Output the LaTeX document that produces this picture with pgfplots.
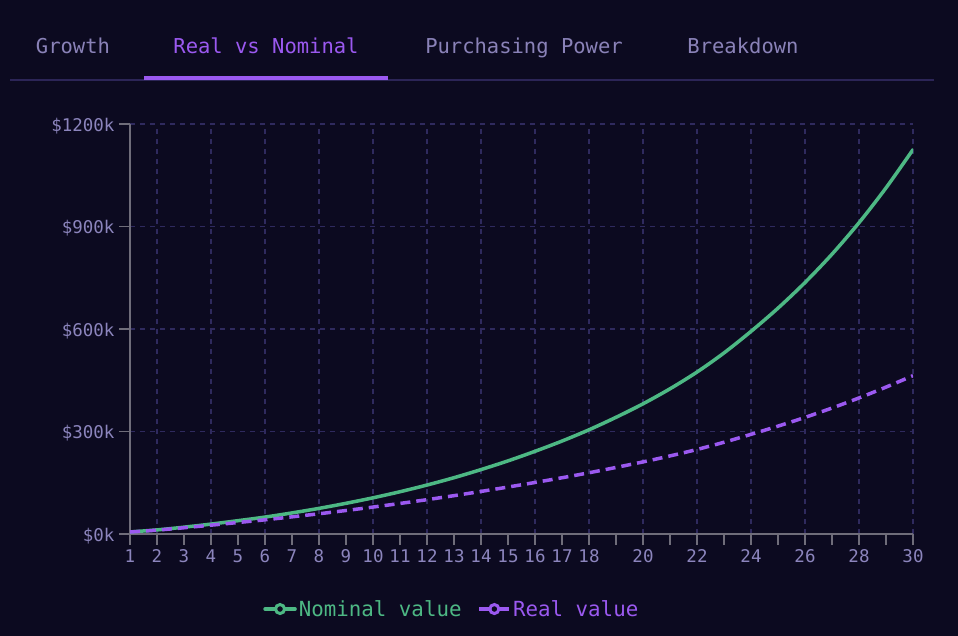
\documentclass[border=0pt]{standalone}
\usepackage{pgfplots}
\pgfplotsset{compat=1.18}
\usepackage{fontspec}
\newfontfamily\mono{DejaVu Sans Mono}
\definecolor{bg}{HTML}{0C0A20}
\definecolor{gridc}{HTML}{2F2A5E}
\definecolor{axc}{HTML}{6F6D7A}
\definecolor{tickc}{HTML}{8C85BD}
\definecolor{tabc}{HTML}{8A82B8}
\definecolor{sepc}{HTML}{2C2557}
\definecolor{nomc}{HTML}{4DB884}
\definecolor{realc}{HTML}{9B59F0}
\pgfplotstableread{
year nominal real
1 6 5.8
2 12 11.3
3 20 18.3
4 29 25.8
5 39 33.6
6 49.5 41.5
7 61.7 50.2
8 75 59.2
9 89.8 68.8
10 105.9 78.8
11 123.7 89.4
12 143.3 100.5
13 164.8 112.2
14 188.5 124.6
15 214 137.4
16 242 150.8
17 272 164.6
18 305 179.2
19 341.5 194.8
20 381 211.0
21 425 228.5
22 474 247.4
23 530 268.5
24 593 291.7
25 661 315.7
26 736 341.3
27 819 368.7
28 911 398.2
29 1013 429.9
30 1125 463.5
}\datatable
\begin{document}
\begin{tikzpicture}
\fill[bg] (0pt,0pt) rectangle (958pt,636pt);
\useasboundingbox (0pt,0pt) rectangle (958pt,636pt);
% tabs
\fill[sepc] (10pt,555pt) rectangle (934pt,557pt);
\fill[realc] (144pt,556pt) rectangle (388pt,560pt);
\node[font=\mono\fontsize{20.5}{24}\selectfont, text=tabc, anchor=base] at (73pt,582pt) {Growth};
\node[font=\mono\fontsize{20.5}{24}\selectfont, text=realc, anchor=base] at (266pt,582pt) {Real vs Nominal};
\node[font=\mono\fontsize{20.5}{24}\selectfont, text=tabc, anchor=base] at (524pt,582pt) {Purchasing Power};
\node[font=\mono\fontsize{20.5}{24}\selectfont, text=tabc, anchor=base] at (743pt,582pt) {Breakdown};
\begin{axis}[
  at={(130pt,102pt)}, anchor=south west,
  scale only axis, width=783pt, height=410pt,
  xmin=1, xmax=30, ymin=0, ymax=1200,
  axis lines=left,
  axis line style={-, draw=axc, line width=1.6pt},
  xtick={1,...,30},
  xticklabels={1,2,3,4,5,6,7,8,9,10,11,12,13,14,15,16,17,18,,20,,22,,24,,26,,28,,30},
  minor xtick={2,4,...,30},
  xminorgrids=true,
  ytick={0,300,600,900,1200},
  yticklabels={\$0k,\$300k,\$600k,\$900k,\$1200k},
  ymajorgrids=true,
  major grid style={draw=gridc, line width=1.3pt, dash pattern=on 5pt off 5pt},
  minor grid style={draw=gridc, line width=1.3pt, dash pattern=on 5pt off 5pt},
  minor tick length=0pt,
  major tick length=11pt,
  tick align=outside,
  tick style={draw=axc, line width=1.6pt},
  tick label style={font=\mono\fontsize{17.5}{20}\selectfont, text=tickc},
  xticklabel style={yshift=-1pt},
  yticklabel style={xshift=-1pt, yshift=-2pt},
  legend style={at={(0.411,-0.183)}, anchor=center, draw=none, fill=none,
    font=\mono\fontsize{20.8}{24}\selectfont, legend columns=2,
    /tikz/every even column/.append style={column sep=14pt}},
  legend cell align=left,
]
\addplot[nomc, line width=3.5pt, line cap=round, smooth, tension=0.5,
  legend image code/.code={\draw[nomc, solid, line width=3.5pt] (0pt,0pt) -- (30pt,0pt);
    \draw[nomc, solid, line width=3pt, fill=bg] (15pt,0pt) circle (4.5pt);}]
  table[x=year, y=nominal] {\datatable};
\addlegendentry{\textcolor{nomc}{Nominal value}}
\addplot[realc, line width=3.5pt, dash pattern=on 10pt off 6pt, smooth, tension=0.5,
  legend image code/.code={\draw[realc, solid, line width=3.5pt] (0pt,0pt) -- (30pt,0pt);
    \draw[realc, solid, line width=3pt, fill=bg] (15pt,0pt) circle (4.5pt);}]
  table[x=year, y=real] {\datatable};
\addlegendentry{\textcolor{realc}{Real value}}
\end{axis}
\end{tikzpicture}
\end{document}
